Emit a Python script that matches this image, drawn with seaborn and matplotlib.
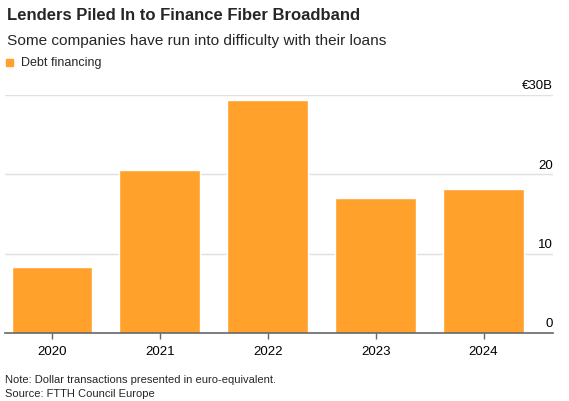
import matplotlib
matplotlib.use("Agg")
import matplotlib.pyplot as plt
import seaborn as sns
import pandas as pd

years = ["2020", "2021", "2022", "2023", "2024"]
debt_financing = [8.3, 20.5, 29.3, 17.0, 18.1]
y_ticks = [0, 10, 20, 30]
y_tick_labels = ["0", "10", "20", "€30B"]

sns.set_theme(style="white")
plt.rcParams['font.family'] = ['Liberation Sans', 'DejaVu Sans']

BAR = "#ffa12b"
df = pd.DataFrame({"year": years, "value": debt_financing})

fig = plt.figure(figsize=(5.69, 4.02), dpi=100)
ax = fig.add_axes([5/569, 1-334/402, (553-5)/569, (334-95.7)/402])

sns.barplot(data=df, x="year", y="value", color=BAR, width=0.75,
            saturation=1, ax=ax, zorder=2)

ax.set_xlim(-0.436, 4.644)
ax.set_ylim(0, 30)
for s in ["top", "right", "left"]:
    ax.spines[s].set_visible(False)
ax.spines["bottom"].set_color("#666666")
ax.spines["bottom"].set_linewidth(1.2)
ax.spines["bottom"].set_zorder(3)

for t in y_ticks[1:]:
    ax.axhline(t, color="#e0e0e0", lw=1, zorder=1)
ax.set_yticks([])
for t, lab in zip(y_ticks, y_tick_labels):
    ax.text(1.0, t + 0.45, lab, transform=ax.get_yaxis_transform(),
            ha="right", va="bottom", fontsize=9.5, color="#000000", clip_on=False)

ax.set_xlabel("")
ax.set_ylabel("")
ax.tick_params(axis="x", length=4, width=1, color="#666666", labelsize=9.5,
               pad=5, bottom=True, labelcolor="#000000")

fig.text(7/569, 1-16/402, "Lenders Piled In to Finance Fiber Broadband",
         fontsize=12, fontweight="bold", ha="left", va="center")
fig.text(7/569, 1-41/402, "Some companies have run into difficulty with their loans",
         fontsize=11.1, ha="left", va="center")
fig.patches.append(plt.Rectangle((6/569, 1-67/402), 7/569, 7/402,
                                 transform=fig.transFigure, color=BAR))
fig.text(21/569, 1-63/402, "Debt financing", fontsize=9, ha="left", va="center")

fig.text(5/569, 1-380/402, "Note: Dollar transactions presented in euro-equivalent.",
         fontsize=8, ha="left", va="center")
fig.text(5/569, 1-394/402, "Source: FTTH Council Europe",
         fontsize=8, ha="left", va="center")

fig.savefig("out.png", dpi=100)
